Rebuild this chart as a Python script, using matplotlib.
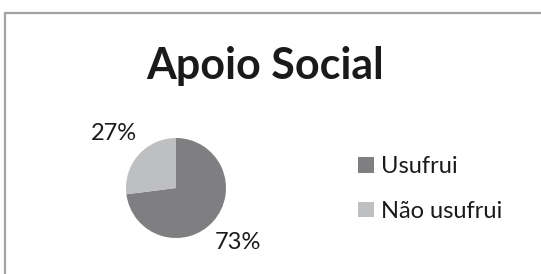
import matplotlib.pyplot as plt
from matplotlib.patches import Rectangle

# Dados
categorias = ['Usufrui', 'Não usufrui']
valores = [73, 27]
cores = ['#7f7f81', '#bebfc1']
titulo = 'Apoio Social'

plt.rcParams['font.family'] = ['Lato', 'DejaVu Sans']

W, H = 541, 274
fig = plt.figure(figsize=(W / 100, H / 100), dpi=100)

# moldura cinza
fig.patches.append(Rectangle((5 / W, -0.1), 1.2, (H - 13) / H + 0.1,
                             transform=fig.transFigure, fill=False,
                             edgecolor='#a3a3a3', linewidth=1.6))

# pizza
cx, cy, r = 176, H - 188, 50
ax = fig.add_axes([(cx - r) / W, (cy - r) / H, 2 * r / W, 2 * r / H])
wedges, _, pcts = ax.pie(valores, colors=cores, startangle=90, counterclock=False,
                         autopct='%1.0f%%', pctdistance=1.65,
                         textprops={'fontsize': 17, 'color': '#1a1a1a'})
ax.set_xlim(-1, 1)
ax.set_ylim(-1, 1)

fig.text(265 / W, 1 - 66 / H, titulo, ha='center', va='center',
         fontsize=31, fontweight='bold', color='#1a1a1a')

fig.legend(wedges, categorias, loc='center left', bbox_to_anchor=(337 / W, 1 - 189 / H),
           frameon=False, fontsize=17, handlelength=0.65, handleheight=0.65,
           labelspacing=1.0, handletextpad=0.3, labelcolor='#1a1a1a')

fig.savefig('out.png', dpi=100)
